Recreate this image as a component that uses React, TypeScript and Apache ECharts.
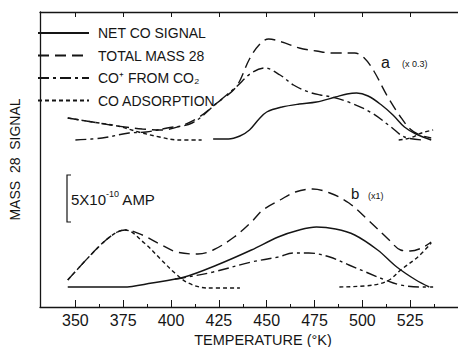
import React, { useEffect, useRef } from "react";
import * as echarts from "echarts";

const SERIES_NAMES = ["NET CO SIGNAL", "TOTAL MASS 28", "CO⁺ FROM CO₂", "CO ADSORPTION"];
const MAJOR_TICKS = [350, 375, 400, 425, 450, 475, 500, 525];
const MINOR_TICKS = [362.5, 387.5, 412.5, 437.5, 462.5, 487.5, 512.5, 537.5];

// curve a (x 0.3) — [temperature K, signal (arbitrary units)]
const netA = [[422,168],[430,168],[436,171],[441,177],[446,188],[450,195],[458,200],[467,203],[476,205],[486,210],[492,213],[497,214],[503,211],[510,202],[516,192],[522,180],[528,173],[536,167]];
const totalA = [[346,189],[359,185],[372,181],[385,178],[395,177],[405,181],[414,189],[424,204],[434,220],[441,248],[446,262],[451,268],[458,265],[467,259],[476,256],[484,254],[496,254],[501,249],[506,236],[513,211],[520,190],[525,178],[530,172],[536,169]];
const coPlusA = [[350,167],[364,169],[378,174],[387,175],[398,179],[411,184],[424,204],[434,220],[442,234],[449,239],[457,232],[464,222],[472,215],[478,212],[484,210],[494,204],[505,194],[515,180],[522,170],[532,167]];
const adsA1 = [[346,189],[359,185],[372,181],[383,175],[394,170],[404,167],[416,167]];
const adsA2 = [[519,167],[525,169],[531,174],[537,177]];

// curve b (x 1)
const netB = [[346,20],[375,20],[390,24],[407,30],[424,42],[442,57],[456,70],[467,77],[476,80],[486,78],[496,72],[508,57],[518,40],[528,27],[535,20]];
const totalB = [[346,27],[357,50],[366,67],[372,75],[376,77],[385,72],[395,62],[403,55],[414,53],[422,57],[433,70],[442,85],[448,97],[457,107],[465,115],[474,118],[483,114],[493,104],[503,87],[514,67],[520,57],[525,56],[531,59],[536,65]];
const coPlusB = [[402,28],[406,29],[422,35],[442,45],[456,50],[464,54],[472,54],[483,50],[493,42],[503,34],[512,27],[520,22],[530,20],[537,20]];
const adsB1 = [[346,27],[357,50],[366,67],[372,75],[376,77],[386,64],[395,47],[402,34],[409,24],[419,19],[436,19]];
const adsB2 = [[488,20],[506,22],[514,27],[520,37],[529,50],[536,64]];

const INK = "#151515";
const FONT = "Liberation Sans, Arial, sans-serif";
const DASH_TYPES: any[] = ["solid", [11, 6], [11, 4, 3, 4], [4, 3]];

export default function App() {
  const ref = useRef<HTMLDivElement>(null);
  useEffect(() => {
    if (!ref.current) return;
    const chart = echarts.init(ref.current, null, { renderer: "svg" });
    const mk = (nameIdx: number, data: number[][]) => ({
      name: SERIES_NAMES[nameIdx],
      type: "line",
      xAxisIndex: 0,
      yAxisIndex: 0,
      data,
      symbol: "none",
      smooth: 0.35,
      lineStyle: { color: INK, width: 1.4, type: DASH_TYPES[nameIdx] },
      itemStyle: { color: INK },
    });
    const axisBase = { type: "value", min: 331.5, max: 550, splitLine: { show: false } };
    chart.setOption({
      animation: false,
      backgroundColor: "#fff",
      textStyle: { fontFamily: FONT },
      grid: { left: 33, right: 0, top: 12, bottom: 40 },
      legend: {
        data: SERIES_NAMES,
        orient: "vertical",
        left: 37,
        top: 26,
        padding: 0,
        itemWidth: 51,
        itemHeight: 14,
        itemGap: 8.5,
        itemStyle: { color: "rgba(0,0,0,0)", borderWidth: 0, opacity: 0 },
        textStyle: { fontSize: 14, color: INK, fontFamily: FONT, padding: [0, 0, 0, 4] },
      },
      xAxis: [
        {
          ...axisBase,
          position: "bottom",
          axisLine: { show: true, lineStyle: { color: INK, width: 1.3 } },
          axisTick: { show: true, inside: true, length: 7, customValues: MAJOR_TICKS, lineStyle: { color: INK } },
          axisLabel: { show: true, customValues: MAJOR_TICKS, fontSize: 16, color: INK, margin: 5, fontFamily: FONT },
        },
        {
          ...axisBase,
          position: "bottom",
          axisLine: { show: false },
          axisTick: { show: true, inside: true, length: 3, customValues: MINOR_TICKS, lineStyle: { color: INK } },
          axisLabel: { show: false },
        },
        {
          ...axisBase,
          position: "top",
          axisLine: { show: true, lineStyle: { color: INK, width: 1.3 } },
          axisTick: { show: true, inside: true, length: 5, customValues: MAJOR_TICKS, lineStyle: { color: INK } },
          axisLabel: { show: false },
        },
      ],
      yAxis: {
        type: "value",
        min: 0,
        max: 295,
        axisLine: { show: true, lineStyle: { color: INK, width: 1.3 } },
        axisTick: { show: false },
        axisLabel: { show: false },
        splitLine: { show: false },
        name: "MASS  28  SIGNAL",
        nameLocation: "middle",
        nameGap: 18,
        nameRotate: 90,
        nameTextStyle: { fontSize: 14, color: INK, fontFamily: FONT },
      },
      series: [
        mk(0, netA), mk(1, totalA), mk(2, coPlusA), mk(3, adsA1), mk(3, adsA2),
        mk(0, netB), mk(1, totalB), mk(2, coPlusB), mk(3, adsB1), mk(3, adsB2),
      ],
      graphic: [
        { type: "text", x: 381, y: 62, style: { text: "a", fontSize: 16, fontFamily: FONT, fill: INK, textVerticalAlign: "middle" } },
        { type: "text", x: 402, y: 64, style: { text: "(x 0.3)", fontSize: 9, fontFamily: FONT, fill: INK, textVerticalAlign: "middle" } },
        { type: "text", x: 351, y: 193, style: { text: "b", fontSize: 15, fontFamily: FONT, fill: INK, textVerticalAlign: "middle" } },
        { type: "text", x: 368, y: 196, style: { text: "(x1)", fontSize: 9, fontFamily: FONT, fill: INK, textVerticalAlign: "middle" } },
        { type: "polyline", shape: { points: [[71, 175], [67, 175], [67, 222], [71, 222]] }, style: { stroke: INK, lineWidth: 1.2, fill: null } },
        {
          type: "text",
          x: 71,
          y: 198,
          style: {
            text: "{n|5X10}{s|-10}{n| AMP}",
            fontFamily: FONT,
            fill: INK,
            textVerticalAlign: "middle",
            rich: {
              n: { fontSize: 15, fontFamily: FONT, fill: INK, verticalAlign: "bottom", lineHeight: 18 },
              s: { fontSize: 9, fontFamily: FONT, fill: INK, verticalAlign: "top", lineHeight: 18 },
            },
          },
        },
        { type: "text", x: 263, y: 340, style: { text: "TEMPERATURE (°K)", fontSize: 14.5, fontFamily: FONT, fill: INK, textAlign: "center", textVerticalAlign: "middle" } },
      ],
    });
    return () => chart.dispose();
  }, []);
  return <div ref={ref} style={{ position: "fixed", left: 0, top: 0, width: 458, height: 347 }} />;
}
